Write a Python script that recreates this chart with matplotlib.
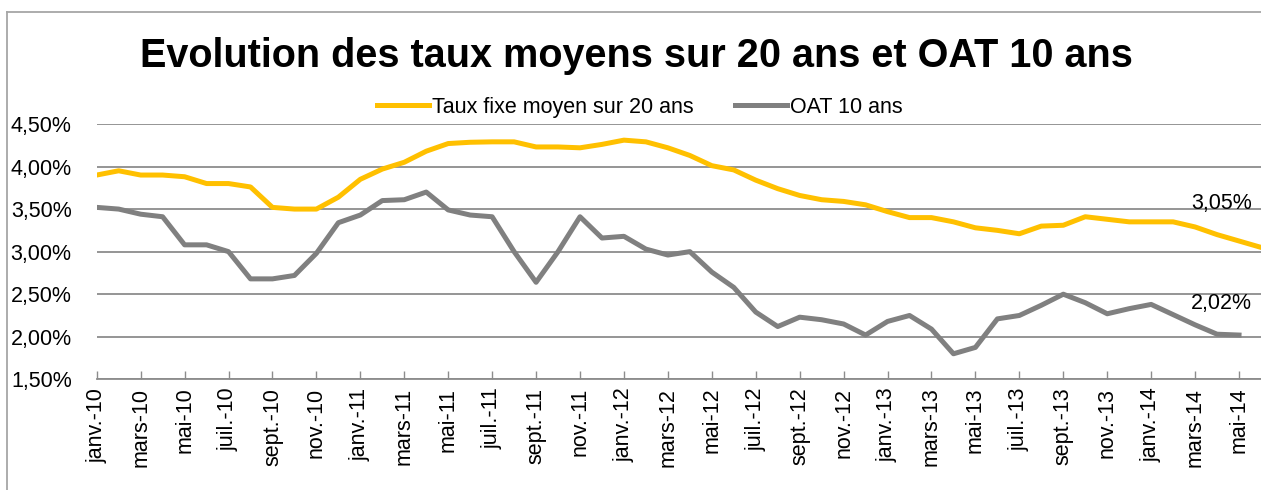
import matplotlib
matplotlib.use("Agg")
import matplotlib.pyplot as plt
import numpy as np
from matplotlib import font_manager
from matplotlib.lines import Line2D
from matplotlib.ticker import FuncFormatter

# pick a narrow Arial-like font if we have one
names = {f.name for f in font_manager.fontManager.ttflist}
font = "Liberation Sans Narrow" if "Liberation Sans Narrow" in names else "Liberation Sans"
plt.rcParams["font.family"] = [font, "DejaVu Sans"]

# monthly data, janv.-10 -> juin-14 (taux) / mai-14 (OAT)
taux_20 = [3.90, 3.95, 3.90, 3.90, 3.88, 3.80, 3.80, 3.76, 3.52, 3.50, 3.50, 3.64, 3.85, 3.97, 4.05,
           4.18, 4.27, 4.285, 4.29, 4.29, 4.23, 4.23, 4.22, 4.26, 4.31, 4.29, 4.22, 4.13, 4.01, 3.96,
           3.84, 3.74, 3.66, 3.61, 3.59, 3.55, 3.47, 3.40, 3.40, 3.35, 3.28, 3.25, 3.21, 3.30, 3.31,
           3.41, 3.38, 3.35, 3.35, 3.35, 3.29, 3.20, 3.125, 3.05]
oat_10 = [3.52, 3.50, 3.44, 3.41, 3.08, 3.08, 3.00, 2.68, 2.68, 2.72, 2.98, 3.34, 3.43, 3.60, 3.61,
          3.70, 3.49, 3.43, 3.41, 3.00, 2.64, 3.00, 3.41, 3.16, 3.18, 3.03, 2.96, 3.00, 2.76, 2.58,
          2.29, 2.12, 2.23, 2.20, 2.15, 2.02, 2.18, 2.25, 2.09, 1.80, 1.875, 2.21, 2.25, 2.37, 2.50,
          2.40, 2.27, 2.33, 2.38, 2.26, 2.14, 2.03, 2.02]

tick_labels = ["janv.-10", "mars-10", "mai-10", "juil.-10", "sept.-10", "nov.-10",
               "janv.-11", "mars-11", "mai-11", "juil.-11", "sept.-11", "nov.-11",
               "janv.-12", "mars-12", "mai-12", "juil.-12", "sept.-12", "nov.-12",
               "janv.-13", "mars-13", "mai-13", "juil.-13", "sept.-13", "nov.-13",
               "janv.-14", "mars-14", "mai-14"]

yellow = "#FFC000"
grey = "#808080"
gridc = "#8c8c8c"
fs = 15.5 if font == "Liberation Sans" else 18.5
title_fs = 28.5 if font == "Liberation Sans" else 34

fig = plt.figure(figsize=(12.61, 4.90), dpi=100)
ax = fig.add_axes([0.0767, 0.2259, 0.9233, 0.5211])

x1 = np.arange(len(taux_20))
x2 = np.arange(len(oat_10))
ax.plot(x1, taux_20, color=yellow, lw=3.6, solid_joinstyle="round", label="Taux fixe moyen sur 20 ans", zorder=3)
ax.plot(x2, oat_10, color=grey, lw=3.6, solid_joinstyle="round", label="OAT 10 ans", zorder=3)

ax.set_xlim(0, len(taux_20) - 1)
ax.set_ylim(1.5, 4.5)
ax.set_yticks(np.arange(1.5, 4.51, 0.5))
ax.yaxis.set_major_formatter(FuncFormatter(lambda v, p: f"{v:.2f}%".replace(".", ",")))
ax.grid(axis="y", color=gridc, lw=1.3)
ax.set_axisbelow(True)

ax.set_xticks(np.arange(0, len(taux_20), 2))
ax.set_xticklabels(tick_labels, rotation=90, va="top", ha="center")

for s in ["left", "right", "top"]:
    ax.spines[s].set_visible(False)
ax.spines["bottom"].set_color(gridc)
ax.spines["bottom"].set_linewidth(1.3)
ax.tick_params(axis="y", length=0, pad=18, labelsize=fs)
ax.tick_params(axis="x", direction="in", length=5.5, width=1.0, color=gridc, pad=6, labelsize=fs)

# end-value labels
ax.text(len(taux_20) - 2.8, taux_20[-1] + 0.51, "3,05%", fontsize=fs, ha="center", va="center")
ax.text(len(taux_20) - 2.8, oat_10[-1] + 0.37, "2,02%", fontsize=fs, ha="center", va="center")

fig.legend(loc="center", bbox_to_anchor=(0.5075, 0.7816), ncol=2, frameon=False, fontsize=fs,
           handlelength=2.4, handletextpad=0.18, columnspacing=1.9, borderaxespad=0)

fig.text(0.505, 0.885, "Evolution des taux moyens sur 20 ans et OAT 10 ans", fontsize=title_fs,
         fontweight="bold", ha="center", va="center")

# chart frame
fig.add_artist(Line2D([0.0056, 1.0], [0.9755, 0.9755], transform=fig.transFigure, color="#a6a6a6", lw=1.3))
fig.add_artist(Line2D([0.0056, 0.0056], [0.0, 0.9755], transform=fig.transFigure, color="#a6a6a6", lw=1.3))

fig.savefig("out.png", dpi=100)
